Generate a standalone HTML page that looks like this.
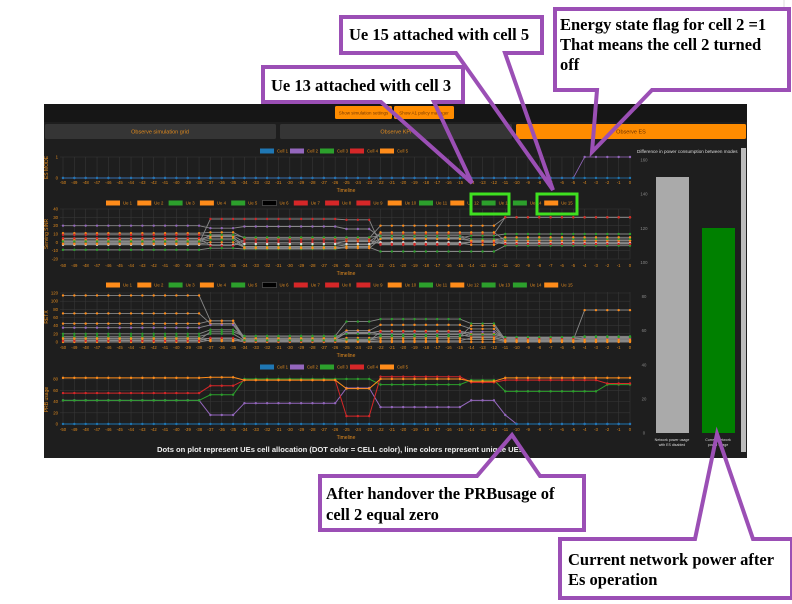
<!DOCTYPE html>
<html><head><meta charset="utf-8">
<style>
html,body{margin:0;padding:0;background:#fff;width:792px;height:604px;overflow:hidden}
svg{display:block}
.t{font-family:"Liberation Sans",sans-serif}
.ann{font-family:"Liberation Serif",serif;font-weight:bold;font-size:16.5px;fill:#000}
</style></head>
<body>
<svg id="s" width="792" height="604" viewBox="0 0 792 604" xmlns="http://www.w3.org/2000/svg">
<rect x="0" y="0" width="792" height="604" fill="#fff"/>
<line x1="784" y1="0" x2="784" y2="8" stroke="#ddd"/>
<!-- callout white fills (under panel) -->
<g fill="#fff" stroke="none">
<path d="M263,67 H463 V102 H434 L472,183 L381,102 H263 Z"/>
<path d="M341,17 H542 V53 H505 L553,190 L456,53 H341 Z"/>
<path d="M555,9 H789 V90 H652 L592,152 L597,90 H555 Z"/>
<path d="M320,476 H477 L512,435 L540,476 H584 V530 H320 Z"/>
<path d="M560,539 H695 L717,434 L753,539 H792 V598 H560 Z"/>
</g>
<!-- dark panel -->
<rect x="44" y="104" width="703" height="354" fill="#1e1e1e"/>
<rect x="44" y="104" width="703" height="18" fill="#161616"/>
<rect x="335" y="106" width="57" height="13" rx="1.5" fill="#ff8c00"/>
<text x="363.5" y="114.5" class="t" font-size="4.5" fill="#7a3a00" text-anchor="middle">Show simulation settings</text>
<rect x="394" y="106" width="60" height="13" rx="1.5" fill="#ff8c00"/>
<text x="424" y="114.5" class="t" font-size="4.5" fill="#7a3a00" text-anchor="middle">Show A1 policy manager</text>
<rect x="45" y="124" width="231" height="15" rx="1.5" fill="#353535"/>
<text x="160" y="133.5" class="t" font-size="5.5" fill="#e08a1e" text-anchor="middle">Observe simulation grid</text>
<rect x="280" y="124" width="232" height="15" rx="1.5" fill="#353535"/>
<text x="396" y="133.5" class="t" font-size="5.5" fill="#e08a1e" text-anchor="middle">Observe KPI</text>
<rect x="516" y="124" width="230" height="15" rx="1.5" fill="#ff8c00"/>
<text x="631" y="133.5" class="t" font-size="5.5" fill="#6a3000" text-anchor="middle">Observe ES</text>
<g id="charts"></g>
<!-- bar chart -->
<text x="637" y="153" class="t" font-size="4.6" fill="#ddd">Difference in power consumption between modes</text>
<rect x="741" y="148" width="5" height="304" fill="#bbb"/>
<g id="bars"></g>
<rect x="656" y="177" width="33" height="256" fill="#aaa"/>
<rect x="702" y="228" width="33" height="205" fill="#008000"/>
<text x="672" y="441" class="t" font-size="3.6" fill="#ddd" text-anchor="middle">Network power usage</text>
<text x="672" y="446" class="t" font-size="3.6" fill="#ddd" text-anchor="middle">with ES disabled</text>
<text x="718" y="441" class="t" font-size="3.6" fill="#ddd" text-anchor="middle">Current network</text>
<text x="718" y="446" class="t" font-size="3.6" fill="#ddd" text-anchor="middle">power usage</text>
<text x="340" y="452" class="t" font-size="7.6" font-weight="bold" fill="#eee" text-anchor="middle">Dots on plot represent UEs cell allocation (DOT color = CELL color), line colors represent unique UEs</text>
<!-- green highlight boxes -->
<rect x="471" y="194" width="38" height="20" fill="none" stroke="#3fe020" stroke-width="3"/>
<rect x="537" y="194" width="40" height="20" fill="none" stroke="#3fe020" stroke-width="3"/>
<!-- callout outlines -->
<g fill="none" stroke="#9b4fb5" stroke-width="4" stroke-linejoin="miter">
<path d="M263,67 H463 V102 H434 L472,183 L381,102 H263 Z"/>
<path d="M341,17 H542 V53 H505 L553,190 L456,53 H341 Z"/>
<path d="M555,9 H789 V90 H652 L592,152 L597,90 H555 Z"/>
<path d="M320,476 H477 L512,435 L540,476 H584 V530 H320 Z"/>
<path d="M560,539 H695 L717,434 L753,539 H792 V598 H560 Z"/>
</g>
<text x="271" y="91" class="ann">Ue 13 attached with cell 3</text>
<text x="349" y="40" class="ann">Ue 15 attached with cell 5</text>
<text x="560" y="30" class="ann">Energy state flag for cell 2 =1</text>
<text x="560" y="50" class="ann">That means the cell 2 turned</text>
<text x="560" y="70" class="ann">off</text>
<text x="326" y="499" class="ann">After handover the PRBusage of</text>
<text x="326" y="520" class="ann">cell 2 equal zero</text>
<text x="568" y="565" class="ann">Current network power after</text>
<text x="568" y="585" class="ann">Es operation</text>
</svg>
<script>
(function(){
var NS="http://www.w3.org/2000/svg";
var G=document.getElementById("charts");
function el(t,a,txt,p){var e=document.createElementNS(NS,t);for(var k in a)e.setAttribute(k,a[k]);if(txt!=null)e.textContent=txt;(p||G).appendChild(e);return e;}
function X(i){return 63+(i+50)*11.34;}
var OR="#ff8c1a",BL="#1f77b4",PU="#9467bd",GR="#2ca02c",RD="#d62728",BK="#000";
function grid(top,bot,ylabels,tickY,tlY,ylab){
 for(var i=-50;i<=0;i++){el("line",{x1:X(i),y1:top,x2:X(i),y2:bot,stroke:"#363636","stroke-width":0.6});
  el("text",{x:X(i),y:tickY,"font-size":4.3,fill:"#e08a1e","text-anchor":"middle","class":"t"},String(i));}
 ylabels.forEach(function(l){el("line",{x1:60,y1:l[1],x2:X(0),y2:l[1],stroke:"#363636","stroke-width":0.6});
  el("text",{x:58,y:l[1]+1.5,"font-size":4.3,fill:"#e08a1e","text-anchor":"end","class":"t"},l[0]);});
 el("text",{x:346,y:tlY,"font-size":5,fill:"#e08a1e","text-anchor":"middle","class":"t"},"Timeline");
 var cy=(top+bot)/2;el("text",{x:48,y:cy,"font-size":5,fill:"#e08a1e","text-anchor":"middle","class":"t",transform:"rotate(-90 48 "+cy+")"},ylab);
}
function legend(items,x0,step,y){items.forEach(function(it,k){var x=x0+k*step;
 el("rect",{x:x,y:y-2.5,width:14,height:5,fill:it[1],stroke:it[1]==BK?"#888":"none","stroke-width":0.4});
 el("text",{x:x+17,y:y+1.6,"font-size":4.3,fill:"#e08a1e","class":"t"},it[0]);});}
function series(P,vals,yf,lc,dc,lw){var pts=[];for(var i=-50;i<=0;i++){var k=0;for(var j=0;j<P.length;j++)if(i>=P[j])k=j;pts.push([X(i),yf(vals[k])]);}
 el("polyline",{points:pts.map(function(p){return p[0].toFixed(1)+","+p[1].toFixed(1)}).join(" "),fill:"none",stroke:lc,"stroke-width":lw||0.8});
 pts.forEach(function(p){el("circle",{cx:p[0],cy:p[1],r:1.2,fill:dc});});}
var cells=[["Cell 1",BL],["Cell 2",PU],["Cell 3",GR],["Cell 4",RD],["Cell 5",OR]];
var ues=[OR,OR,GR,OR,GR,BK,RD,RD,RD,OR,GR,OR,GR,GR,OR].map(function(c,k){return["Ue "+(k+1),c];});
legend(cells,260,30,151);
grid(157,178,[["1",157],["0",178]],184,192,"ES MODE");
series([-50,-4],[0,1],function(v){return 178-v*21;},PU,PU);
series([-50],[0],function(v){return 178;},BL,BL);
legend(ues,106,31.3,203);
var f2=function(v){return 259-(v+20)*50/60;};
grid(209,259,[["40",209],["30",217.3],["20",225.7],["10",234],["0",242.3],["-10",250.7],["-20",259]],267,275,"Serving SINR");
var P2=[-50,-37,-34,-25,-22,-14,-11];
[[[20,17,19,16,6,2,2],PU],[[11,12,5,5,20,20,30],OR],[[9,8,0,1,10,10,30],RD],[[-9,-7,-8,-6,-11,-11,-4],GR],
 [[2,5,-2,2,-1,-3,2],OR],[[0,3,-5,-3,5,8,10],GR],[[-1,28,28,27,-3,1,0],RD],[[-3,-3,-2,-2,0,0,-1],"#ddd"],
 [[4,7,-7,-5,12,12,2],OR],[[5,-4,3,3,-2,0,-2],RD],[[1,9,6,6,8,4,4],GR],[[-2,0,-6,-7,4,2,6],OR]].forEach(function(s){series(P2,s[0],f2,"#888",s[1],0.9);});
legend(ues,106,31.3,285);
var f3=function(v){return 342-v*49/120;};
grid(292,342,[["120",293],["100",301.2],["80",309.3],["60",317.5],["40",325.7],["20",333.8],["0",342]],349,357,"RETX");
var P3=[-50,-37,-34,-25,-22,-14,-11,-4];
[[[114,52,10,28,42,32,5,78],OR],[[70,45,8,22,27,20,10,10],OR],[[35,42,5,24,20,25,8,8],PU],[[20,30,15,50,56,45,6,12],GR],
 [[45,52,5,10,12,40,3,3],OR],[[10,8,3,5,8,6,2,2],OR],[[5,25,14,20,18,12,4,4],GR],[[0,5,0,0,0,0,0,0],OR],
 [[3,10,2,3,25,15,8,6],RD],[[8,2,6,2,3,10,4,5],OR],[[14,20,4,6,14,18,12,14],GR]].forEach(function(s){series(P3,s[0],f3,"#888",s[1],0.9);});
legend(cells,260,30,367);
var f4=function(v){return 424-v*45/80;};
grid(375,424,[["80",379],["60",390.3],["40",401.5],["20",412.8],["0",424]],431,439,"PRB usage");
var P4=[-50,-37,-34,-25,-22,-14,-11,-10,-2];
series(P4,[42,16,37,64,30,42,16,0,0],f4,PU,PU,1);
series(P4,[42,52,80,80,70,78,58,58,70],f4,GR,GR,1);
series(P4,[55,68,78,14,84,74,78,78,72],f4,RD,RD,1);
series(P4,[82,83,78,63,80,76,82,82,82],f4,OR,OR,1);
series([-50],[0],f4,BL,BL,1);
var B=document.getElementById("bars");
for(var v=0;v<=160;v+=20){var y=433-v*273/160;el("text",{x:644,y:y+1.5,"font-size":4.3,fill:"#888","text-anchor":"middle","class":"t"},String(v),B);}
})();
</script>
</body></html>
